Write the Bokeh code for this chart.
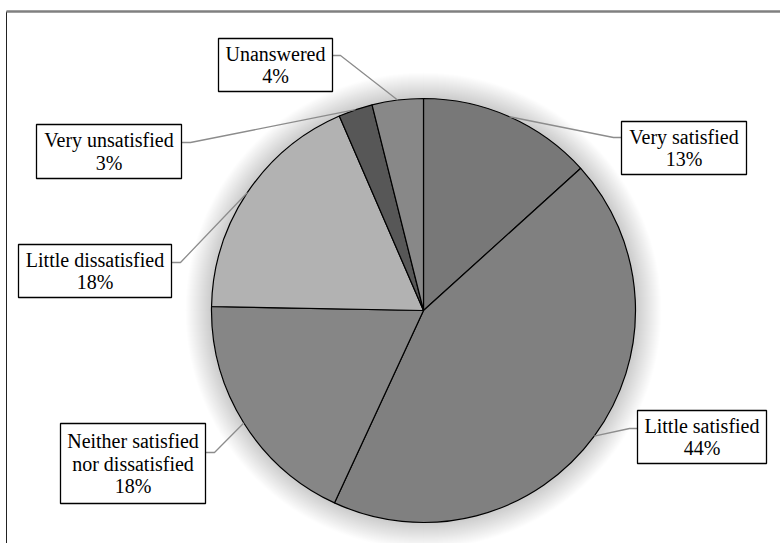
import math
from bokeh.plotting import figure
from bokeh.models import Range1d
from bokeh.core.properties import value
from bokeh.embed import file_html
from bokeh.resources import INLINE

# ---- data ----
categories = ["Very satisfied", "Little satisfied", "Neither satisfied\nnor dissatisfied",
              "Little dissatisfied", "Very unsatisfied", "Unanswered"]
shares = [13.3, 43.6, 18.4, 18.2, 2.6, 3.9]
pct_labels = ["13%", "44%", "18%", "18%", "3%", "4%"]
colors = ["#787878", "#808080", "#868686", "#b2b2b2", "#575757", "#888888"]

# ---- layout (screen pixels) ----
W, H = 780, 543
def X(sx): return sx
def Y(sy): return H - sy

CX, CY, R = X(423), Y(310), 212
# label boxes: left, right, top, bottom, anchor side, anchor y, elbow x
boxes = [
    (621, 746, 121, 174, "left", 137, 613),
    (637, 766, 410, 463, "left", 428, 629),
    (60, 205, 423, 503, "right", 452, 214),
    (18, 171, 244, 297, "right", 262, 180),
    (36, 181, 124, 178, "right", 142, 190),
    (218, 332, 38, 91, "right", 55, 340),
]

p = figure(width=W, height=H, x_range=Range1d(0, W), y_range=Range1d(0, H),
           toolbar_location=None, output_backend="svg", min_border=0,
           outline_line_color=None, background_fill_color="white",
           border_fill_color="white")
p.xaxis.visible = False
p.yaxis.visible = False
p.xgrid.visible = False
p.ygrid.visible = False

# frame
p.line([X(6), X(6)], [Y(11), Y(560)], line_color="#222222", line_width=1)
p.line([X(6), X(800)], [Y(11), Y(11)], line_color="#808080", line_width=2.5)

# soft shadow glow
for k in range(26, 0, -1):
    p.circle(x=[CX], y=[CY], radius=R + k, fill_color="black", fill_alpha=0.008,
             line_color=None)

# pie slices
total = sum(shares)
cum = 0.0
starts, ends, mids = [], [], []
for s in shares:
    c0 = cum / total
    cum += s
    c1 = cum / total
    starts.append(math.pi / 2 - 2 * math.pi * c1)
    ends.append(math.pi / 2 - 2 * math.pi * c0)
    mids.append((c0 + c1) / 2)

p.wedge(x=[CX] * len(shares), y=[CY] * len(shares), radius=R,
        start_angle=starts, end_angle=ends, direction="anticlock",
        fill_color=colors, line_color="black", line_width=1.2)

# leader lines
xs, ys = [], []
for m, b in zip(mids, boxes):
    th = math.pi / 2 - 2 * math.pi * m
    ex, ey = CX + R * math.cos(th), CY + R * math.sin(th)
    l, r, t, bt, side, ay, elx = b
    axp = l if side == "left" else r
    xs.append([X(axp), X(elx), ex])
    ys.append([Y(ay), Y(ay), ey])
p.multi_line(xs=xs, ys=ys, line_color="#8c8c8c", line_width=1.3)

# label boxes
p.quad(left=[X(b[0]) for b in boxes], right=[X(b[1]) for b in boxes],
       top=[Y(b[2]) for b in boxes], bottom=[Y(b[3]) for b in boxes],
       fill_color="white", line_color="black", line_width=1.3)

tx, ty, tt = [], [], []
LH = 22.5
for cat, pct, b in zip(categories, pct_labels, boxes):
    lines = cat.split("\n") + [pct]
    l, r, t, bt = b[0], b[1], b[2], b[3]
    cxs = (l + r) / 2
    cys = (t + bt) / 2
    n = len(lines)
    for i, ln in enumerate(lines):
        sy = cys + (i - (n - 1) / 2) * LH
        tx.append(X(cxs))
        ty.append(Y(sy))
        tt.append(ln)
p.text(x=tx, y=ty, text=tt, text_align="center", text_baseline="middle",
       text_font=value("Liberation Serif"), text_font_size="20px", text_color="black")

open("out.html", "w").write(file_html(p, INLINE))
